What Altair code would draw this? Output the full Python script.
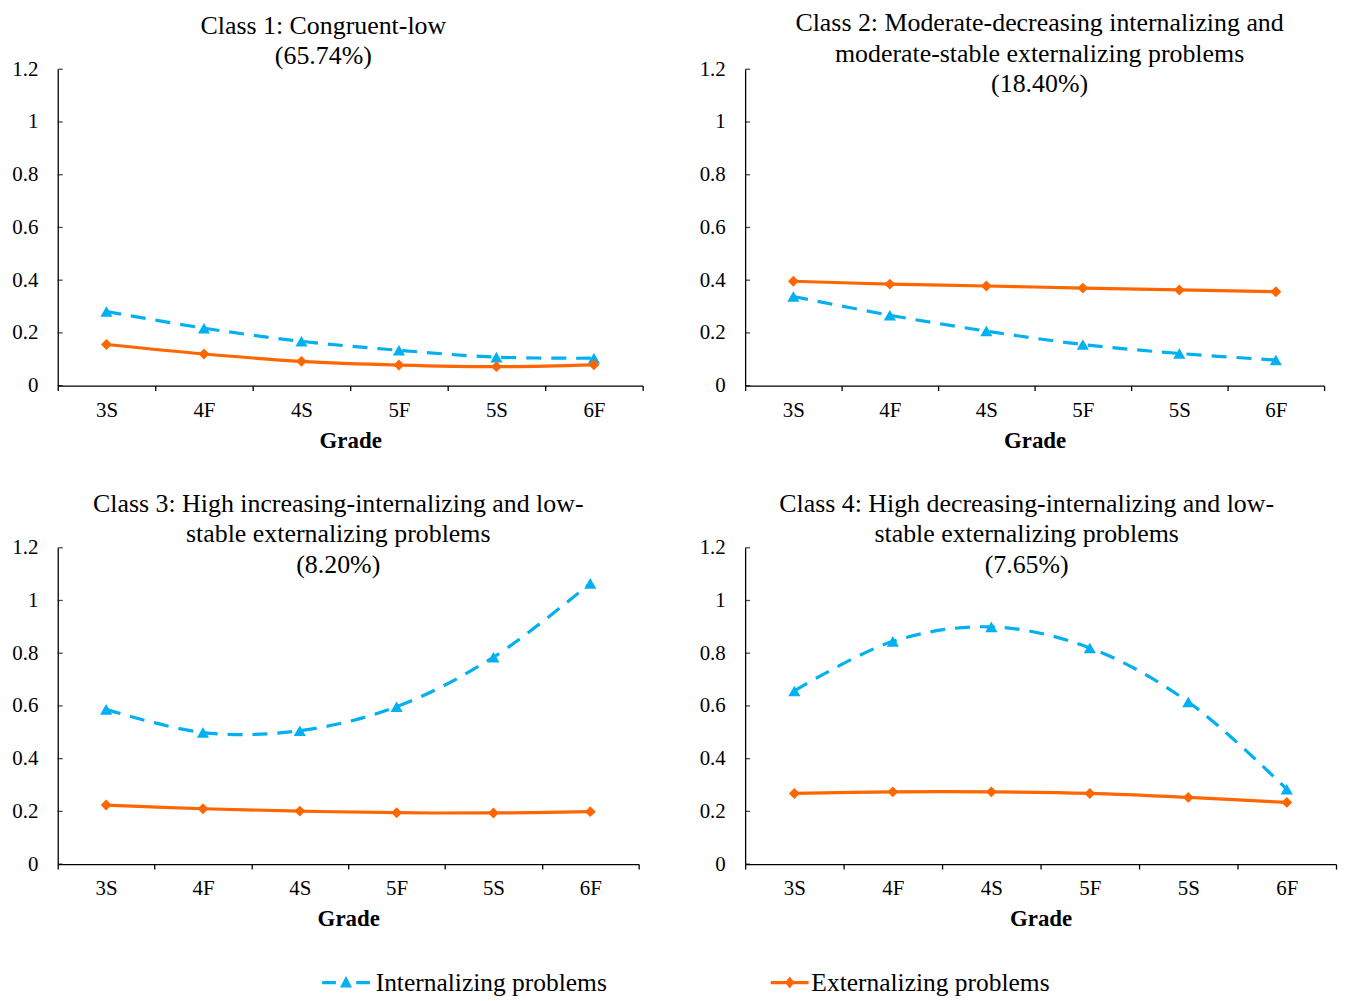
import altair as alt
import pandas as pd

grades = ["3S", "4F", "4S", "5F", "5S", "6F"]
series_names = ["Internalizing problems", "Externalizing problems"]

c1_int = [0.281, 0.218, 0.168, 0.134, 0.108, 0.104]
c1_ext = [0.156, 0.120, 0.092, 0.078, 0.072, 0.079]
c2_int = [0.338, 0.267, 0.207, 0.156, 0.122, 0.097]
c2_ext = [0.396, 0.385, 0.378, 0.370, 0.363, 0.356]
c3_int = [0.587, 0.499, 0.506, 0.597, 0.785, 1.065]
c3_ext = [0.224, 0.210, 0.201, 0.195, 0.194, 0.199]
c4_int = [0.657, 0.845, 0.900, 0.820, 0.615, 0.284]
c4_ext = [0.268, 0.274, 0.274, 0.268, 0.253, 0.234]

titles = [
    ["Class 1: Congruent-low", "(65.74%)"],
    ["Class 2: Moderate-decreasing internalizing and",
     "moderate-stable externalizing problems", "(18.40%)"],
    ["Class 3: High increasing-internalizing  and low-",
     "stable externalizing problems", "(8.20%)"],
    ["Class 4: High decreasing-internalizing and low-",
     "stable externalizing problems", "(7.65%)"],
]
y_ticks = [0, 0.2, 0.4, 0.6, 0.8, 1, 1.2]

BLUE = "#00B0F0"
ORANGE = "#FF6600"
FONT = "Liberation Serif"

# legend symbols (unit = 12 px): dash-triangle-dash and line-diamond-line
PATH_INT = ("M-2,-0.13L-0.85,-0.13L-0.85,0.13L-2,0.13Z "
            "M0.85,-0.13L2,-0.13L2,0.13L0.85,0.13Z "
            "M0,-0.55L0.5,0.42L-0.5,0.42Z")
PATH_EXT = ("M-0.92,-0.13L2.25,-0.13L2.25,0.13L-0.92,0.13Z "
            "M0.67,-0.5L1.07,0L0.67,0.5L0.27,0Z")


def make_df(int_vals, ext_vals):
    rows = []
    for g, v in zip(grades, int_vals):
        rows.append({"grade": g, "series": series_names[0], "value": v})
    for g, v in zip(grades, ext_vals):
        rows.append({"grade": g, "series": series_names[1], "value": v})
    return pd.DataFrame(rows)


def panel(int_vals, ext_vals, title, w, h, dx, offset, legend=False):
    df = make_df(int_vals, ext_vals)
    x = alt.X("grade:N", sort=grades,
              scale=alt.Scale(type="band", domain=grades, paddingInner=0, paddingOuter=0),
              axis=alt.Axis(title="Grade", tickBand="extent", labelAngle=0,
                            labelPadding=9, titlePadding=9, tickSize=5))
    y = alt.Y("value:Q",
              scale=alt.Scale(domain=[0, 1.2], nice=False, zero=True),
              axis=alt.Axis(title=None, values=y_ticks, format="~g", grid=False,
                            ticks=False, labelPadding=20))
    base = alt.Chart(df)
    int_f = alt.datum.series == series_names[0]
    ext_f = alt.datum.series == series_names[1]
    yticks_layer = alt.Chart(pd.DataFrame({"value": y_ticks})).mark_tick(
        color="black", thickness=1.3, size=5, orient="horizontal"
    ).encode(y=y, x=alt.value(2.5))
    int_line = base.transform_filter(int_f).mark_line(
        color=BLUE, strokeWidth=3.2, strokeDash=[15, 10], interpolate="catmull-rom"
    ).encode(x=x, y=y)
    int_pts = base.transform_filter(int_f).mark_point(
        shape="triangle-up", filled=True, color=BLUE, size=150, opacity=1
    ).encode(x=x, y=y)
    ext_line = base.transform_filter(ext_f).mark_line(
        color=ORANGE, strokeWidth=3.2, interpolate="catmull-rom"
    ).encode(x=x, y=y)
    ext_pts = base.transform_filter(ext_f).mark_point(
        shape="diamond", filled=True, color=ORANGE, size=120, opacity=1
    ).encode(x=x, y=y)
    layers = [yticks_layer, int_line, int_pts, ext_line, ext_pts]
    if legend:
        leg = alt.Legend(title=None, orient="none", legendX=277, legendY=905,
                         direction="horizontal", columns=2, columnPadding=162,
                         symbolSize=576, symbolStrokeWidth=0, labelOffset=17,
                         labelFont=FONT, labelFontSize=25.6, labelColor="black",
                         labelLimit=400)
        leg_layer = base.mark_point(filled=True, size=0, opacity=1).encode(
            x=x, y=y,
            color=alt.Color("series:N", sort=series_names,
                            scale=alt.Scale(domain=series_names, range=[BLUE, ORANGE]),
                            legend=leg),
            shape=alt.Shape("series:N", sort=series_names,
                            scale=alt.Scale(domain=series_names, range=[PATH_INT, PATH_EXT]),
                            legend=leg),
        )
        layers.append(leg_layer)
    return alt.layer(*layers).properties(
        width=w, height=h,
        title=alt.TitleParams(text=title, anchor="middle", dx=dx, offset=offset,
                              fontSize=26, fontWeight="normal", font=FONT,
                              lineHeight=30.5, color="black"),
    )


p1 = panel(c1_int, c1_ext, titles[0], 588, 318, -27, -11)
p2 = panel(c2_int, c2_ext, titles[1], 582, 318, 5, -39)
p3 = panel(c3_int, c3_ext, titles[2], 584, 318, -10, -41)
p4 = panel(c4_int, c4_ext, titles[3], 594, 318, -14, -41, legend=True)

chart = alt.concat(p1, p2, p3, p4, columns=2, bounds="flush",
                   spacing=alt.RowColnumber(row=163, column=103)).properties(
    padding={"left": 3, "top": 0, "right": 2, "bottom": 0}
).configure(font=FONT).configure_view(stroke=None).configure_axis(
    domainColor="black", tickColor="black", labelColor="black", titleColor="black",
    labelFont=FONT, titleFont=FONT, labelFontSize=21, titleFontSize=23,
    titleFontWeight="bold", domainWidth=1.3, tickWidth=1.3,
)

chart.save("out.html", embed_options={"renderer": "svg", "actions": False})
